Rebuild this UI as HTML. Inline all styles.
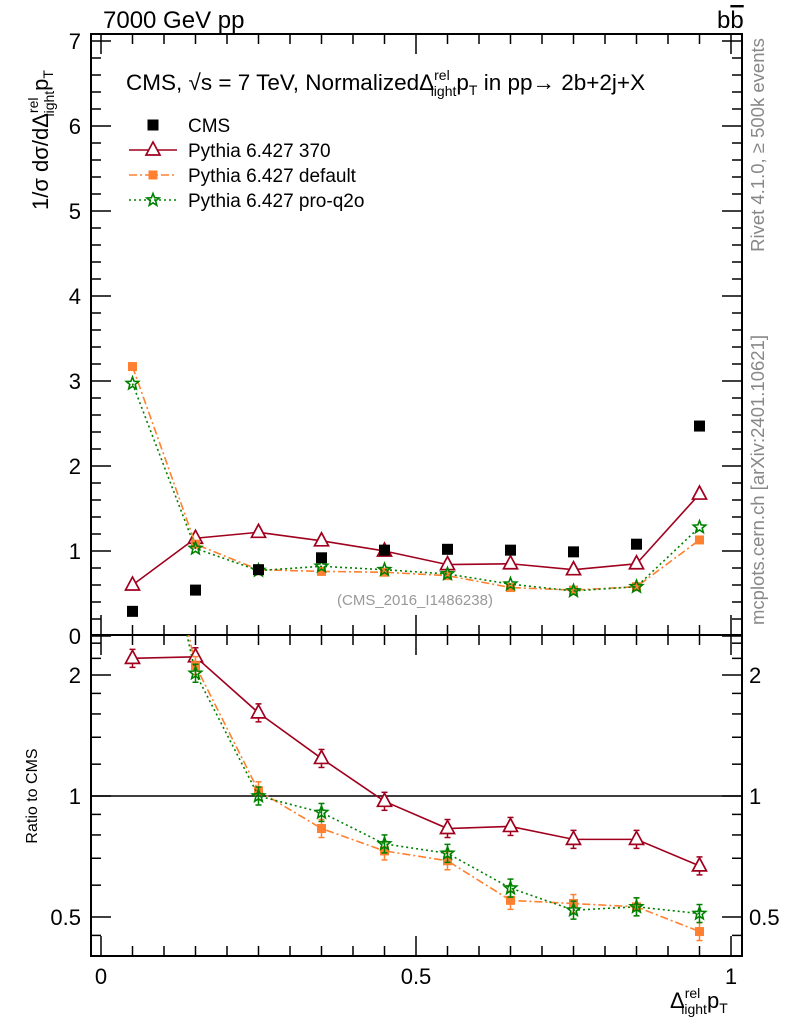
<!DOCTYPE html>
<html><head><meta charset="utf-8"><style>
html,body{margin:0;padding:0;background:#fff;}
svg{display:block;font-family:"Liberation Sans",sans-serif;}
</style></head><body>
<svg id="c" width="786" height="1024" viewBox="0 0 786 1024"></svg>
<script>
const xCenters=[0.05,0.15,0.25,0.35,0.45,0.55,0.65,0.75,0.85,0.95];
const cmsVals=[0.29,0.54,0.78,0.92,1.01,1.02,1.01,0.99,1.08,2.47];
const p370Vals=[0.60,1.15,1.22,1.12,1.00,0.84,0.85,0.78,0.85,1.67];
const pDefVals=[3.17,1.08,0.78,0.76,0.75,0.71,0.57,0.54,0.58,1.13];
const pQ2oVals=[2.97,1.03,0.77,0.82,0.78,0.73,0.61,0.53,0.58,1.28];
const r370=[2.20,2.22,1.61,1.24,0.97,0.83,0.84,0.78,0.78,0.67];
const rDef=[10.9,2.11,1.03,0.83,0.73,0.69,0.55,0.54,0.53,0.46];
const rQ2o=[10.2,2.02,1.00,0.91,0.76,0.72,0.59,0.52,0.53,0.51];
const mainTicks=[0,1,2,3,4,5,6,7];
const ratioTicks=[0.5,1,2];
const xTickLabels=[0,0.5,1];

const NS="http://www.w3.org/2000/svg";
const svg=document.getElementById('c');
const L=91,R=742,T=34,MB=635,RB=956;
const X=v=>101+v*630;
const Y=v=>636-v*85;
const YR=v=>796-121*Math.log2(v);
function el(tag,attrs,parent){const e=document.createElementNS(NS,tag);for(const k in attrs)e.setAttribute(k,attrs[k]);(parent||svg).appendChild(e);return e;}
function txt(s,attrs,parent){const e=el('text',attrs,parent);e.textContent=s;return e;}

const defs=el('defs',{});
const c1=el('clipPath',{id:'cm'},defs);el('rect',{x:L,y:T,width:R-L,height:MB-T},c1);
const c2=el('clipPath',{id:'cr'},defs);el('rect',{x:L,y:MB,width:R-L,height:RB-MB},c2);

const fm=el('rect',{x:L,y:T,width:R-L,height:MB-T,fill:'none',stroke:'#000','stroke-width':2});


const fr=el('rect',{x:L,y:MB,width:R-L,height:RB-MB,fill:'none',stroke:'#000','stroke-width':2});



for(let i=0;i<=20;i++){const v=i*0.05;const x=X(v);const major=(i%10===0);const len=major?20:10;
  el('line',{x1:x,x2:x,y1:MB,y2:MB-len,stroke:'#000','stroke-width':1.5});
  el('line',{x1:x,x2:x,y1:T,y2:T+len,stroke:'#000','stroke-width':1.5});
  el('line',{x1:x,x2:x,y1:RB,y2:RB-len,stroke:'#000','stroke-width':1.5});
  el('line',{x1:x,x2:x,y1:MB,y2:MB+len,stroke:'#000','stroke-width':1.5});
}
xTickLabels.forEach(v=>{const t=txt(String(v),{x:X(v),y:984,'font-size':22,'text-anchor':'middle'});
  
  });

for(let i=0;i<=35;i++){const v=i*0.2;const y=Y(v);if(y<T-1)continue;const major=(i%5===0);const len=major?20:10;
  el('line',{x1:L,x2:L+len,y1:y,y2:y,stroke:'#000','stroke-width':1.5});
  el('line',{x1:R,x2:R-len,y1:y,y2:y,stroke:'#000','stroke-width':1.5});}
mainTicks.forEach(v=>{const t=txt(String(v),{x:81,y:Y(v)+8,'font-size':22,'text-anchor':'end'});
  
  });

[0.45,0.6,0.7,0.8,0.9,1.2,1.4,1.6,1.8,2.2,2.4].forEach(v=>{const y=YR(v);
  el('line',{x1:L,x2:L+10,y1:y,y2:y,stroke:'#000','stroke-width':1.5});
  el('line',{x1:R,x2:R-10,y1:y,y2:y,stroke:'#000','stroke-width':1.5});});
ratioTicks.forEach(v=>{const y=YR(v);
  el('line',{x1:L,x2:L+20,y1:y,y2:y,stroke:'#000','stroke-width':1.5});
  el('line',{x1:R,x2:R-20,y1:y,y2:y,stroke:'#000','stroke-width':1.5});
  const a=txt(String(v),{x:81,y:y+8,'font-size':22,'text-anchor':'end'});
  
  
  const b=txt(String(v),{x:749,y:y+8,'font-size':22,'text-anchor':'start'});
  
  });
const ref=el('line',{x1:L,x2:R,y1:YR(1),y2:YR(1),stroke:'#000','stroke-width':1.5});



function tri(g,x,y,col){el('polygon',{points:`${x},${y-8} ${x-7},${y+5} ${x+7},${y+5}`,fill:'#fff',stroke:col,'stroke-width':1.7},g);}
function sq(g,x,y,col,s){el('rect',{x:x-s/2,y:y-s/2,width:s,height:s,fill:col},g);}
function star(g,x,y,col){let p=[];for(let i=0;i<10;i++){const r=i%2?2.8:6.5;const a=-Math.PI/2+i*Math.PI/5;p.push((x+r*Math.cos(a)).toFixed(1)+','+(y+r*Math.sin(a)).toFixed(1));}
  el('polygon',{points:p.join(' '),fill:'none',stroke:col,'stroke-width':1.6},g);}

const series=[
 {name:'pythia-370',vals:p370Vals,ratio:r370,col:'#a0001e',dash:'',mk:tri},
 {name:'pythia-default',vals:pDefVals,ratio:rDef,col:'#ff8030',dash:'8,3,2,3',mk:(g,x,y,c)=>sq(g,x,y,c,9)},
 {name:'pythia-pro-q2o',vals:pQ2oVals,ratio:rQ2o,col:'#008000',dash:'2,3',mk:star}
];
series.forEach(s=>{
  const g=el('g',{'clip-path':'url(#cm)'});
  
  
  el('polyline',{points:xCenters.map((x,i)=>X(x)+','+Y(s.vals[i])).join(' '),fill:'none',stroke:s.col,'stroke-width':1.6,'stroke-dasharray':s.dash},g);
  xCenters.forEach((x,i)=>s.mk(g,X(x),Y(s.vals[i]),s.col));
  const gr=el('g',{'clip-path':'url(#cr)'});
  
  
  el('polyline',{points:xCenters.map((x,i)=>X(x)+','+YR(s.ratio[i])).join(' '),fill:'none',stroke:s.col,'stroke-width':1.6,'stroke-dasharray':s.dash},gr);
  xCenters.forEach((x,i)=>{const xx=X(x),y=YR(s.ratio[i]);
    el('line',{x1:xx,x2:xx,y1:y-9,y2:y+9,stroke:s.col,'stroke-width':1.5},gr);
    el('line',{x1:xx-3,x2:xx+3,y1:y-9,y2:y-9,stroke:s.col,'stroke-width':1.5},gr);
    el('line',{x1:xx-3,x2:xx+3,y1:y+9,y2:y+9,stroke:s.col,'stroke-width':1.5},gr);
    s.mk(gr,xx,y,s.col);});
});
const gc=el('g',{'clip-path':'url(#cm)'});


xCenters.forEach((x,i)=>sq(gc,X(x),Y(cmsVals[i]),'#000',11));

const leg=[['CMS','#000',null,''],['Pythia 6.427 370','#a0001e',tri,''],['Pythia 6.427 default','#ff8030',(g,x,y,c)=>sq(g,x,y,c,9),'8,3,2,3'],['Pythia 6.427 pro-q2o','#008000',star,'2,3']];
leg.forEach((l,i)=>{const y=125+i*25;const g=el('g',{});
  
  
  if(i===0)sq(g,153,y,'#000',11);else{el('line',{x1:129,x2:177,y1:y,y2:y,stroke:l[1],'stroke-width':1.6,'stroke-dasharray':l[3]},g);l[2](g,153,y,l[1]);}
  txt(l[0],{x:188,y:y+7,'font-size':19},g);});

let t=txt('7000 GeV pp',{x:103,y:28,'font-size':24});
t=el('text',{x:717,y:28,'font-size':24});t.innerHTML='b<tspan text-decoration="overline">b</tspan>';
t=el('text',{x:126,y:90,'font-size':22.5});
t.innerHTML='CMS, √s = 7 TeV, NormalizedΔ<tspan font-size="14" dy="-10">rel</tspan><tspan font-size="14" dx="-19" dy="16">light</tspan><tspan dy="-6">p</tspan><tspan font-size="14" dy="5">T</tspan><tspan dy="-5"> in pp→  2b+2j+X</tspan>';

t=el('text',{transform:'translate(48,140) rotate(-90)','font-size':22,'text-anchor':'middle'});
t.innerHTML='1/σ dσ/dΔ<tspan font-size="14" dy="-10">rel</tspan><tspan font-size="14" dx="-19" dy="16">light</tspan><tspan dy="-6">p</tspan><tspan font-size="14" dy="5">T</tspan>';

t=txt('Ratio to CMS',{transform:'translate(37,796) rotate(-90)','font-size':16,'text-anchor':'middle'});
t=el('text',{x:670,y:1008,'font-size':22});
t.innerHTML='Δ<tspan font-size="14" dy="-10">rel</tspan><tspan font-size="14" dx="-19" dy="16">light</tspan><tspan dy="-6">p</tspan><tspan font-size="14" dy="5">T</tspan>';

t=txt('(CMS_2016_I1486238)',{x:415,y:605,'font-size':15,fill:'#999','text-anchor':'middle'});
t=txt('Rivet 4.1.0, ≥ 500k events',{transform:'translate(764,145) rotate(-90)','font-size':18.5,fill:'#888','text-anchor':'middle'});
t=txt('mcplots.cern.ch [arXiv:2401.10621]',{transform:'translate(764,480) rotate(-90)','font-size':18.5,fill:'#888','text-anchor':'middle'});
</script>
</body></html>
